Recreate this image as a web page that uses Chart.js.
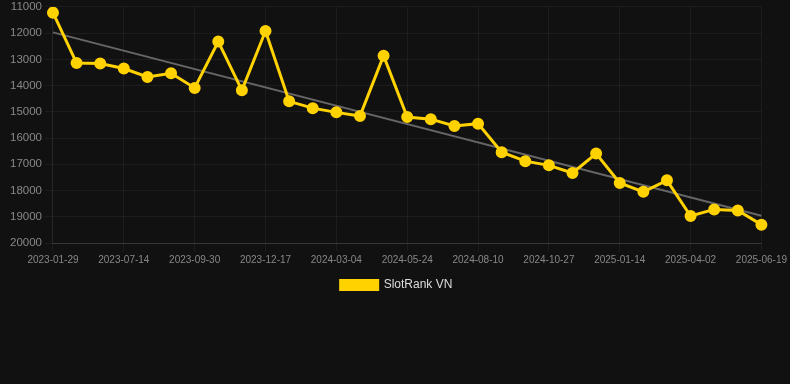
<!DOCTYPE html>
<html lang="en">
<head>
    <meta charset="UTF-8">
    <title>SlotRank VN</title>
    <style>
        body {
            margin: 0;
            padding: 0;
            background: #111111;
            font-family: Arial, 'Liberation Sans', sans-serif;
        }

        .chart-container {
            position: relative;
            width: 790px;
            height: 304px;
            margin-top: -3px;
        }
    </style>
    <script src="https://cdn.jsdelivr.net/npm/chart.js"></script>
</head>
<body>
    <div class="chart-container">
        <canvas id="rankChart"></canvas>
    </div>

    <script>
        // Data
        const dates = [
            '2023-01-29', '2023-05-22', '2023-06-18', '2023-07-14', '2023-08-09', '2023-09-04',
            '2023-09-30', '2023-10-26', '2023-11-21', '2023-12-17', '2024-01-12', '2024-02-07',
            '2024-03-04', '2024-03-31', '2024-04-27', '2024-05-24', '2024-06-19', '2024-07-15',
            '2024-08-10', '2024-09-05', '2024-10-01', '2024-10-27', '2024-11-22', '2024-12-18',
            '2025-01-14', '2025-02-09', '2025-03-07', '2025-04-02', '2025-04-28', '2025-05-24',
            '2025-06-19'
        ];
        const ranks = [
            11220, 13140, 13160, 13350, 13670, 13530, 14090, 12320, 14180, 11920,
            14600, 14860, 15020, 15160, 12860, 15200, 15280, 15540, 15450, 16540,
            16880, 17040, 17330, 16590, 17710, 18050, 17610, 18970, 18720, 18760,
            19300
        ];
        // trend line ends (first and last date)
        const trendEnds = [11970, 18960];
        const yTicks = { min: 11000, max: 20000, step: 1000 };

        const trendData = dates.map((d, i) => {
            if (i === 0) return trendEnds[0];
            if (i === dates.length - 1) return trendEnds[1];
            return null;
        });

        const ctx = document.getElementById('rankChart').getContext('2d');
        const rankChart = new Chart(ctx, {
            type: 'line',
            data: {
                labels: dates,
                datasets: [{
                    label: 'SlotRank VN',
                    data: ranks,
                    borderColor: '#FFD200',
                    backgroundColor: '#FFD200',
                    borderWidth: 3,
                    pointRadius: 4.5,
                    pointHoverRadius: 6,
                    tension: 0,
                    order: 1
                }, {
                    label: 'trend',
                    data: trendData,
                    borderColor: '#666666',
                    borderWidth: 2,
                    pointRadius: 0,
                    spanGaps: true,
                    order: 2
                }]
            },
            options: {
                responsive: true,
                maintainAspectRatio: false,
                animation: false,
                layout: {
                    padding: { left: 7, right: 4, top: 0, bottom: 0 }
                },
                plugins: {
                    legend: {
                        position: 'bottom',
                        labels: {
                            color: '#dddddd',
                            boxWidth: 37,
                            boxHeight: 9,
                            font: { size: 12, family: 'Arial, Liberation Sans, sans-serif' },
                            filter: item => item.text !== 'trend'
                        }
                    },
                    tooltip: { enabled: false }
                },
                scales: {
                    x: {
                        grid: { color: 'rgba(255,255,255,0.05)' },
                        border: { color: 'rgba(255,255,255,0.12)' },
                        ticks: {
                            color: '#888888',
                            maxRotation: 0,
                            autoSkip: true,
                            maxTicksLimit: 11,
                            font: { size: 10, family: 'Arial, Liberation Sans, sans-serif' }
                        }
                    },
                    y: {
                        reverse: true,
                        min: yTicks.min,
                        max: yTicks.max,
                        grid: { color: 'rgba(255,255,255,0.05)' },
                        border: { color: 'rgba(255,255,255,0.05)' },
                        ticks: {
                            stepSize: yTicks.step,
                            color: '#888888',
                            font: { size: 11.5, family: 'Arial, Liberation Sans, sans-serif' },
                            callback: value => String(value)
                        }
                    }
                }
            }
        });
    </script>
</body>
</html>
